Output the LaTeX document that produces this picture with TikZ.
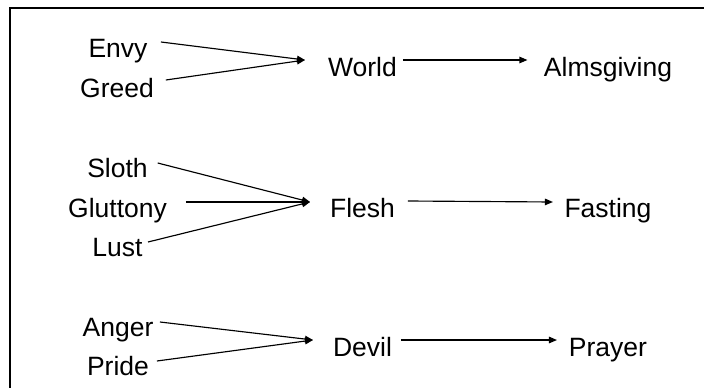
\documentclass[tikz,border=0pt]{standalone}
\usepackage{fontspec}
\setmainfont{Liberation Sans}
\usetikzlibrary{arrows.meta}
\begin{document}
\begin{tikzpicture}[x=1pt,y=-1pt,
  lbl/.style={anchor=base,inner sep=0pt,outer sep=0pt,font=\fontsize{26.5pt}{30pt}\selectfont},
  arr/.style={line width=1.15pt,-{Triangle[length=8pt,width=6.5pt]}},
  frame/.style={line width=2pt}]
\clip (0,0) rectangle (704,388);
\draw[frame] (10,400) -- (10,8) -- (720,8);
% row 1
\node[lbl] (envy) at (118,57) {Envy};
\node[lbl] (greed) at (117,97) {Greed};
\node[lbl] (world) at (362.5,76) {World};
\node[lbl] (alms) at (608,76) {Almsgiving};
\coordinate (cw) at (305,60);
% row 2
\node[lbl] (sloth) at (117.5,177) {Sloth};
\node[lbl] (glut) at (117.5,217) {Gluttony};
\node[lbl] (lust) at (117.5,256) {Lust};
\node[lbl] (flesh) at (362.5,217) {Flesh};
\node[lbl] (fast) at (608,217) {Fasting};
\coordinate (cf) at (310,202);
% row 3
\node[lbl] (anger) at (118,336) {Anger};
\node[lbl] (pride) at (118,375) {Pride};
\node[lbl] (devil) at (362.5,356) {Devil};
\node[lbl] (prayer) at (608,356) {Prayer};
\coordinate (cd) at (313,340);
% arrows
\draw[arr] ([xshift=13.5pt,yshift=15pt]envy.base east) -- (cw);
\draw[arr] ([xshift=12pt,yshift=17pt]greed.base east) -- (cw);
\draw[arr] ([xshift=6pt,yshift=16pt]world.base east) -- ([xshift=-16.5pt,yshift=16pt]alms.base west);
\draw[arr] ([xshift=10pt,yshift=14pt]sloth.base east) -- (cf);
\draw[arr] ([xshift=19pt,yshift=15pt]glut.base east) -- (cf);
\draw[arr] ([xshift=5.5pt,yshift=14pt]lust.base east) -- (cf);
\draw[arr] ([xshift=13pt,yshift=16pt]flesh.base east) -- ([xshift=-11.6pt,yshift=15pt]fast.base west);
\draw[arr] ([xshift=6.6pt,yshift=14pt]anger.base east) -- (cd);
\draw[arr] ([xshift=8pt,yshift=14pt]pride.base east) -- (cd);
\draw[arr] ([xshift=9pt,yshift=16pt]devil.base east) -- ([xshift=-12pt,yshift=16pt]prayer.base west);
\end{tikzpicture}
\end{document}
